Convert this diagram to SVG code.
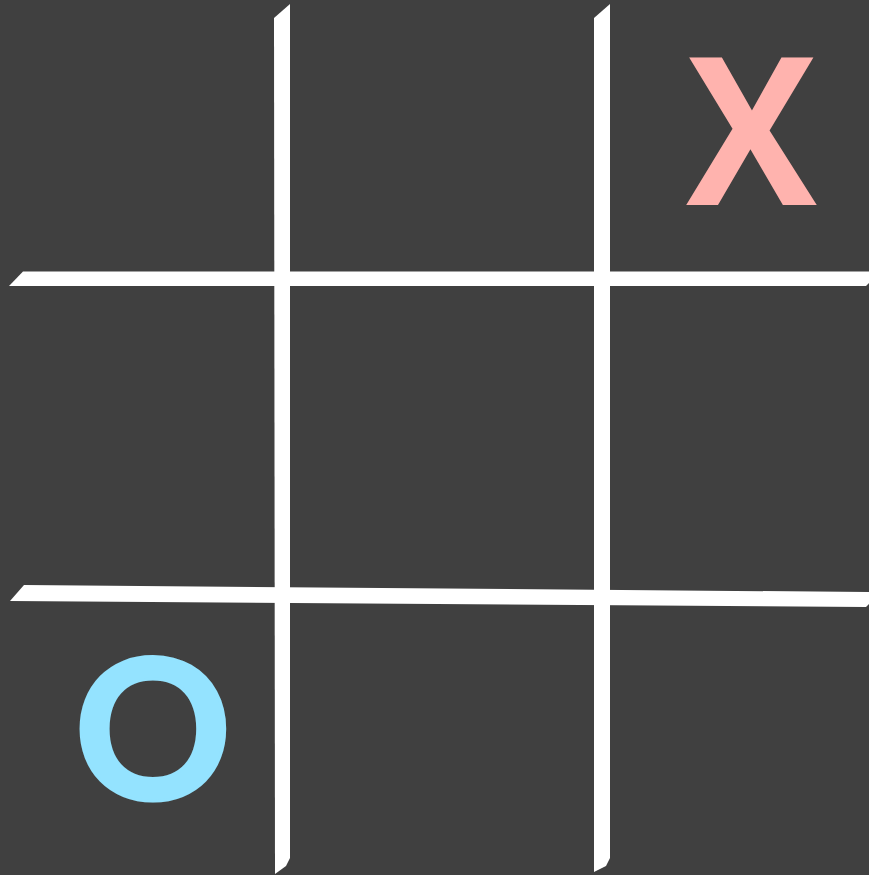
<svg xmlns="http://www.w3.org/2000/svg" width="869" height="875" viewBox="0 0 869 875">
<style>
.line{fill:#ffffff}
.mark{font-weight:700;text-anchor:middle}
</style>
<rect width="869" height="875" fill="#404040"/>
<g id="grid">
<polygon class="line" points="274,18 290,4 290,858 286,866 275,874"/>
<polygon class="line" points="594,18 610,4 610,858 606,866 594,872"/>
<polygon class="line" points="23,271.5 869,271.5 869,283 866,286 9,286"/>
<polygon class="line" points="24,585 869,592 869,604 866,607 10,601"/>
</g>
<g id="x-mark"><text class="mark" transform="translate(751.5 205) scale(0.95 1)" x="0" y="0" fill="#ffb3ae" font-size="206" font-family="'Open Sans','Liberation Sans',sans-serif">X</text></g>
<g id="o-mark"><text class="mark" x="153" y="799" fill="#94e3ff" stroke="#94e3ff" stroke-width="3" stroke-linejoin="round" font-family="Lato,'Open Sans',sans-serif" font-size="196">O</text></g>
</svg>
